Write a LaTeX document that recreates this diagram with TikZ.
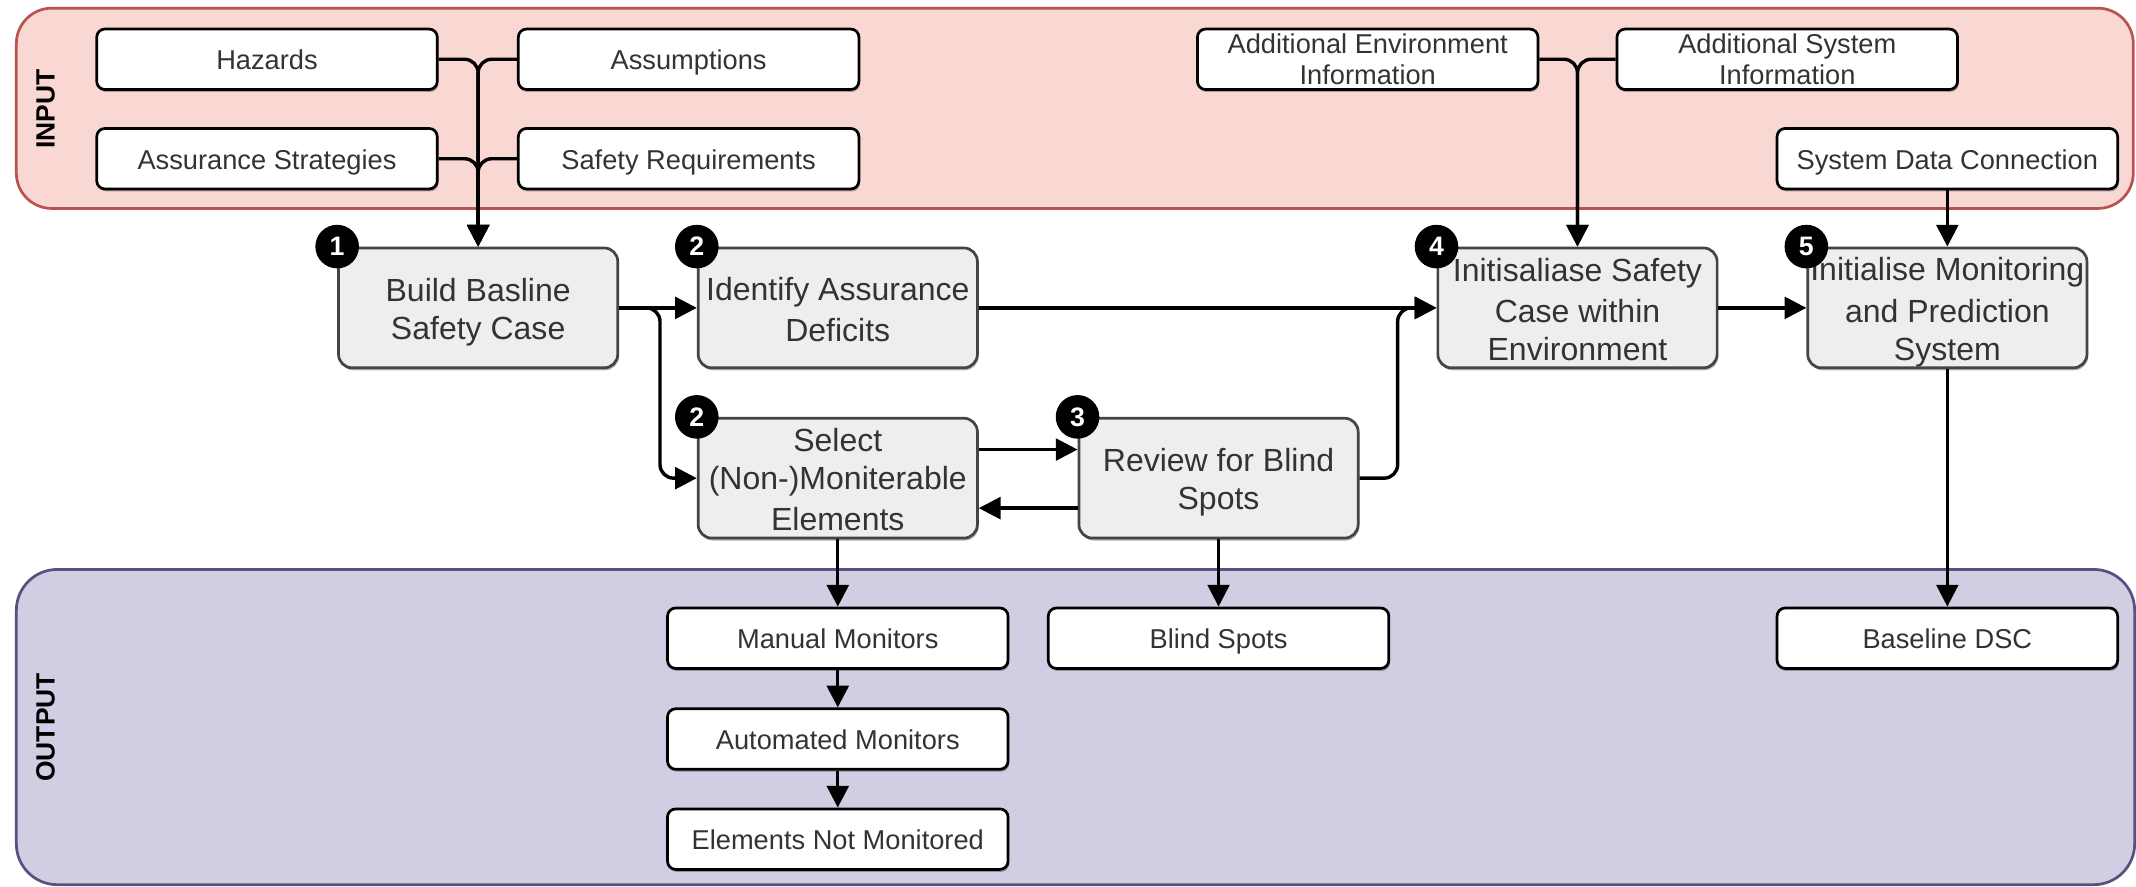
\documentclass[tikz,border=0pt]{standalone}
\usepackage{fontspec}
\setmainfont{Liberation Sans}
\usetikzlibrary{arrows.meta,shadows}

\definecolor{inFill}{HTML}{F9D8D4}
\definecolor{inLine}{HTML}{B85450}
\definecolor{outFill}{HTML}{D0CEE2}
\definecolor{outLine}{HTML}{56517E}
\definecolor{stepFill}{HTML}{EEEEEE}
\definecolor{stepLine}{HTML}{444444}
\definecolor{txt}{HTML}{333333}

% invisible line struts, so every line of text sits on a fixed baseline
\newcommand{\ioline}{\rule[-2.05pt]{0pt}{11.7pt}}
\newcommand{\stepline}{\rule[-2.25pt]{0pt}{14pt}}

\begin{document}
\begin{tikzpicture}[x=0.5pt,y=-0.5pt,
  panel/.style={rounded corners=13pt, line width=1pt},
  paneltitle/.style={rotate=90, font=\bfseries\fontsize{9.7}{11}\selectfont, text=black},
  boxshadow/.style={drop shadow={shadow xshift=0.4pt, shadow yshift=-0.9pt, opacity=0.3, fill=black}},
  iobox/.style={draw=black, fill=white, line width=1pt, rounded corners=3pt,
    minimum width=125pt, minimum height=22.2pt, inner sep=0pt, align=center,
    text=txt, font=\fontsize{10}{11.7}\selectfont, boxshadow},
  stepbox/.style={draw=stepLine, fill=stepFill, line width=1pt, rounded corners=5pt,
    minimum width=102.5pt, minimum height=44pt, inner sep=0pt, align=center,
    text=txt, font=\fontsize{11.75}{14}\selectfont, boxshadow},
  badge/.style={circle, fill=black, minimum size=16pt, inner sep=0pt,
    text=white, font=\bfseries\fontsize{9.8}{10}\selectfont},
  conn/.style={line width=1.25pt, -{Triangle[length=8pt,width=8pt]}},
  thin conn/.style={line width=1pt, -{Triangle[length=8pt,width=8pt]}},
  elbow/.style={rounded corners=5pt}
]
% canvas
\useasboundingbox (0,0) rectangle (1568,650.4);

% input and output bands
\draw[panel, fill=inFill, draw=inLine] (12,6) rectangle (1566,153);
\draw[panel, fill=outFill, draw=outLine, rounded corners=15pt] (12,418) rectangle (1567,649.4);
\node[paneltitle] (inlabel) at (33.5,80) {INPUT};
\node[paneltitle] (outlabel) at (33.5,534) {OUTPUT};

% inputs
\node[iobox] (haz)  at (196,43.5)   {\ioline Hazards};
\node[iobox] (assm) at (505.5,43.5) {\ioline Assumptions};
\node[iobox] (strat) at (196,116.5) {\ioline Assurance Strategies};
\node[iobox] (sreq) at (505.5,116.5) {\ioline Safety Requirements};
\node[iobox] (aei)  at (1004,43.5)  {Additional Environment\\Information};
\node[iobox] (asi)  at (1312,43.5)  {Additional System\\Information};
\node[iobox] (sdc)  at (1429.5,116.5) {\ioline System Data Connection};

% process steps
\node[stepbox] (build)  at (351,226)   {\stepline Build Basline\\\stepline Safety Case};
\node[stepbox] (ident)  at (615,226)   {\stepline Identify Assurance\\\stepline Deficits};
\node[stepbox] (init)   at (1158,226)  {\stepline Initisaliase Safety\\\stepline Case within\\\stepline Environment};
\node[stepbox] (imp)    at (1429.5,226) {\stepline Initialise Monitoring\\\stepline and Prediction\\\stepline System};
\node[stepbox] (select) at (615,351)   {\stepline Select\\\stepline (Non-)Moniterable\\\stepline Elements};
\node[stepbox] (review) at (894.5,351) {\stepline Review for Blind\\\stepline Spots};

% outputs
\node[iobox] (manual) at (615,468.5)   {\ioline Manual Monitors};
\node[iobox] (auto)   at (615,542.5)   {\ioline Automated Monitors};
\node[iobox] (notmon) at (615,616)     {\ioline Elements Not Monitored};
\node[iobox] (blind)  at (894.5,468.5) {\ioline Blind Spots};
\node[iobox] (dsc)    at (1429.5,468.5) {\ioline Baseline DSC};

% connectors: inputs into the steps
\draw[conn, elbow] (haz.east)   -| (build.north);
\draw[conn, elbow] (assm.west)  -| (build.north);
\draw[conn, elbow] (strat.east) -| (build.north);
\draw[conn, elbow] (sreq.west)  -| (build.north);
\draw[conn, elbow] (aei.east) -| (init.north);
\draw[conn, elbow] (asi.west) -| (init.north);
\draw[conn] (sdc.south) -- (imp.north);

% connectors between the steps
\draw[conn] (build.east) -- (ident.west);
\draw[conn, elbow] (build.east) -- ++(30,0) |- (select.west);
\draw[conn] (ident.east) -- (init.west);
\draw[conn] ([yshift=10.5pt]select.east) -- ([yshift=10.5pt]review.west);
\draw[conn] ([yshift=-11pt]review.west) -- ([yshift=-11pt]select.east);
\draw[conn, elbow] (review.east) -- ++(28,0) |- (init.west);
\draw[conn] (init.east) -- (imp.west);

% connectors to the outputs
\draw[conn] (select.south) -- (manual.north);
\draw[conn] (manual.south) -- (auto.north);
\draw[conn] (auto.south) -- (notmon.north);
\draw[thin conn] (review.south) -- (blind.north);
\draw[thin conn] (imp.south) -- (dsc.north);

% step numbers
\node[badge] (n1)  at (build.north west)  {1};
\node[badge] (n2a) at (ident.north west)  {2};
\node[badge] (n2b) at (select.north west) {2};
\node[badge] (n3)  at (review.north west) {3};
\node[badge] (n4)  at (init.north west)   {4};
\node[badge] (n5)  at (imp.north west)    {5};
\end{tikzpicture}
\end{document}
